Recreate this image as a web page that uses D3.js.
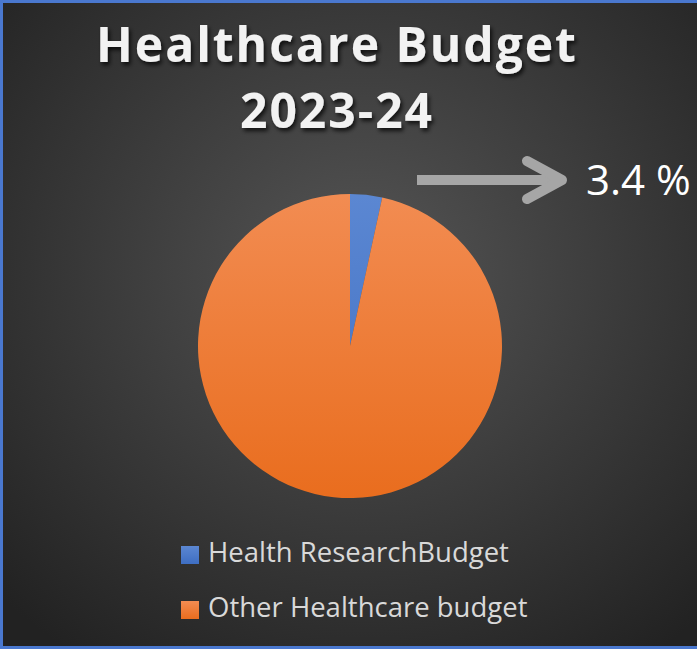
<!DOCTYPE html>
<html>
<head>
<meta charset="utf-8">
<script src="https://cdn.jsdelivr.net/npm/d3@7"></script>
<style>
  html, body { margin: 0; padding: 0; background: #2a2a2a; }
  svg { display: block; }
</style>
</head>
<body>
<svg id="chart" width="697" height="649"></svg>
<script>
// Budget split for 2023-24 (percent of the healthcare budget)
const categories = ["Health ResearchBudget", "Other Healthcare budget"];
const shares = [3.4, 96.6];
const calloutLabel = "3.4 %";
const titleLines = ["Healthcare Budget", "2023-24"];

const W = 697, H = 649;
const svg = d3.select("#chart");
const defs = svg.append("defs");

// Radial background: lighter in the middle, darker toward the edges
const bg = defs.append("radialGradient").attr("id", "bg")
  .attr("cx", "52%").attr("cy", "42%").attr("r", "72%");
bg.append("stop").attr("offset", "0%").attr("stop-color", "#555555");
bg.append("stop").attr("offset", "100%").attr("stop-color", "#222222");

// Vertical shading for the slices
const fills = [
  ["#5b87d2", "#3e6ec2"],
  ["#f28c52", "#e96d1e"]
];
fills.forEach((c, i) => {
  const g = defs.append("linearGradient").attr("id", "slice" + i)
    .attr("gradientUnits", "userSpaceOnUse")
    .attr("x1", 0).attr("y1", -152).attr("x2", 0).attr("y2", 152);
  g.append("stop").attr("offset", "0%").attr("stop-color", c[0]);
  g.append("stop").attr("offset", "100%").attr("stop-color", c[1]);
});
fills.forEach((c, i) => {
  const g = defs.append("linearGradient").attr("id", "key" + i)
    .attr("x1", 0).attr("y1", 0).attr("x2", 0).attr("y2", 1);
  g.append("stop").attr("offset", "0%").attr("stop-color", c[0]);
  g.append("stop").attr("offset", "100%").attr("stop-color", c[1]);
});

const shadow = defs.append("filter").attr("id", "shadow")
  .attr("x", "-10%").attr("y", "-20%").attr("width", "120%").attr("height", "150%");
shadow.append("feDropShadow").attr("dx", 2).attr("dy", 3).attr("stdDeviation", 2)
  .attr("flood-color", "#000").attr("flood-opacity", 0.75);

svg.append("rect").attr("width", W).attr("height", H).attr("fill", "url(#bg)");

// Frame on top, left and bottom
svg.append("path")
  .attr("d", `M${W},1.5 H1.5 V${H - 1.5} H${W}`)
  .attr("fill", "none").attr("stroke", "#4a78cf").attr("stroke-width", 3);

// Title
const title = svg.append("text")
  .attr("text-anchor", "middle")
  .attr("font-family", "'Open Sans', Lato, sans-serif")
  .attr("font-weight", 700)
  .attr("font-size", 48)
  .attr("letter-spacing", 2)
  .attr("fill", "#f2f2f2")
  .attr("filter", "url(#shadow)");
titleLines.forEach((t, i) => {
  title.append("tspan").attr("x", 337).attr("y", 62 + i * 66).text(t);
});

// Pie
const cx = 350, cy = 346, R = 152;
const pie = d3.pie().sort(null).value(d => d);
const arc = d3.arc().innerRadius(0).outerRadius(R);
const pg = svg.append("g").attr("transform", `translate(${cx},${cy})`);
pg.selectAll("path").data(pie(shares)).join("path")
  .attr("d", arc)
  .attr("fill", (d, i) => `url(#slice${i})`);

// Callout arrow and label for the small slice
const arrowY = 180;
const ag = svg.append("g").attr("stroke", "#a6a6a6").attr("stroke-width", 10)
  .attr("stroke-linecap", "round").attr("stroke-linejoin", "round").attr("fill", "none");
ag.append("line").attr("x1", 417).attr("y1", arrowY).attr("x2", 562).attr("y2", arrowY)
  .attr("stroke-linecap", "butt");
ag.append("path").attr("d", `M527,${arrowY - 19} L562,${arrowY} L527,${arrowY + 19}`);

svg.append("text")
  .attr("x", 586).attr("y", 195)
  .attr("font-family", "'Open Sans', Lato, sans-serif")
  .attr("font-size", 42)
  .attr("fill", "#ffffff")
  .text(calloutLabel);

// Legend
const lg = svg.append("g");
categories.forEach((c, i) => {
  const y = 546 + i * 55;
  lg.append("rect").attr("x", 181).attr("y", y).attr("width", 18).attr("height", 18)
    .attr("fill", `url(#key${i})`);
  lg.append("text").attr("x", 208).attr("y", y + 16)
    .attr("font-family", "'Open Sans', Lato, sans-serif")
    .attr("font-size", 27.5)
    .attr("fill", "#d9d9d9")
    .text(c);
});
</script>
</body>
</html>
